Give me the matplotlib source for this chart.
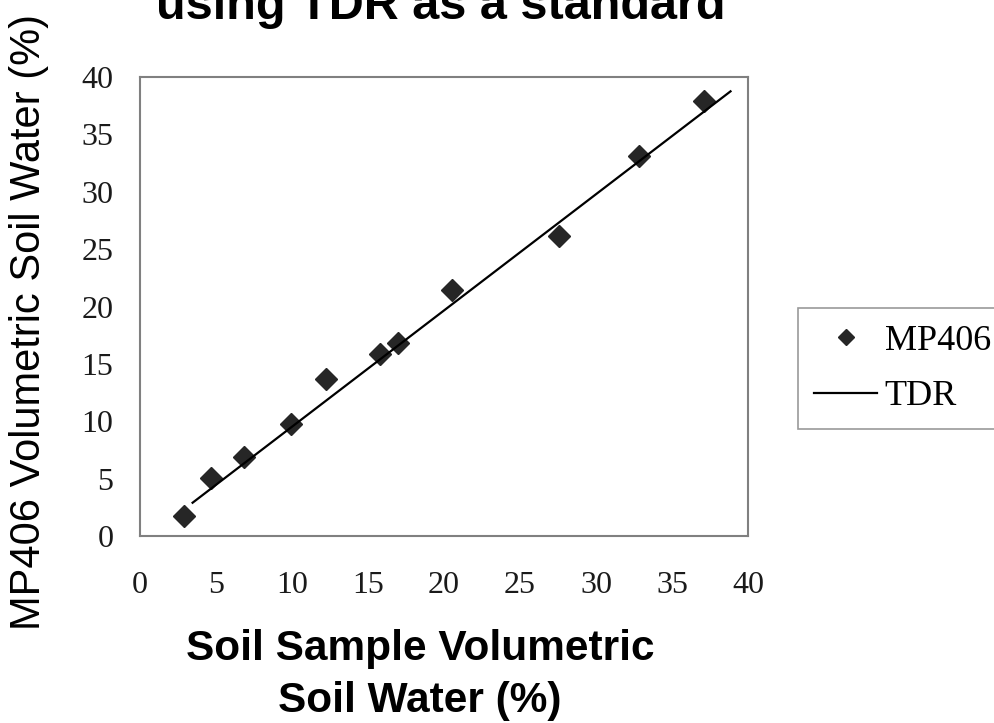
import matplotlib
matplotlib.use("Agg")
from matplotlib import pyplot as plt

# values
soil_sample = [2.92, 4.67, 6.81, 9.95, 12.23, 15.77, 16.98, 20.50, 27.58, 32.84, 37.10]
mp406 = [1.74, 5.08, 6.88, 9.72, 13.70, 15.88, 16.78, 21.48, 26.13, 33.15, 37.88]
tdr_x = [3.46, 38.85]
tdr_y = [2.90, 38.75]
ticks = [0, 5, 10, 15, 20, 25, 30, 35, 40]

serif = "Liberation Serif"
sans = "Liberation Sans"

fig = plt.figure(figsize=(9.94, 7.23), dpi=100)
ax = fig.add_axes([140/994, 1 - 536/723, 608/994, 459/723])

ax.plot(soil_sample, mp406, linestyle="none", marker="D", markersize=11,
        color="#262626", label="MP406")
ax.plot(tdr_x, tdr_y, color="black", linewidth=1.6, label="TDR")

ax.set_xlim(0, 40)
ax.set_ylim(0, 40)
ax.set_xticks(ticks)
ax.set_yticks(ticks)
ax.tick_params(length=0, labelsize=23)
ax.tick_params(axis="x", pad=25)
ax.tick_params(axis="y", pad=19)
for lab in ax.get_xticklabels() + ax.get_yticklabels():
    lab.set_family(serif)
    lab.set_color("#1a1a1a")
for sp in ax.spines.values():
    sp.set_color("#808080")
    sp.set_linewidth(1.5)

# title is cut off at the top edge in the reference
fig.text(441/994, 1 - 19/723, "using TDR as a standard", ha="center",
         va="baseline", fontsize=35, fontweight="bold", family=sans)

fig.text(29/994, 1 - 322/723, "MP406 Volumetric Soil Water (%)", rotation=90,
         ha="center", va="center", fontsize=30, family=sans)

fig.text(420/994, 1 - 675/723, "Soil Sample Volumetric\nSoil Water (%)",
         ha="center", va="center", fontsize=30.5, fontweight="bold",
         family=sans, linespacing=1.4)

leg = ax.legend(loc="upper left", bbox_to_anchor=(798/994, 1 - 308/723),
                bbox_transform=fig.transFigure, frameon=True, fancybox=False,
                prop={"family": serif, "size": 26}, markerscale=0.7,
                handlelength=1.75, handletextpad=0.2, borderpad=0.45,
                labelspacing=0.62, borderaxespad=0)
leg.get_frame().set_edgecolor("#808080")
leg.get_frame().set_linewidth(1.2)

fig.savefig("out.png", dpi=100)
